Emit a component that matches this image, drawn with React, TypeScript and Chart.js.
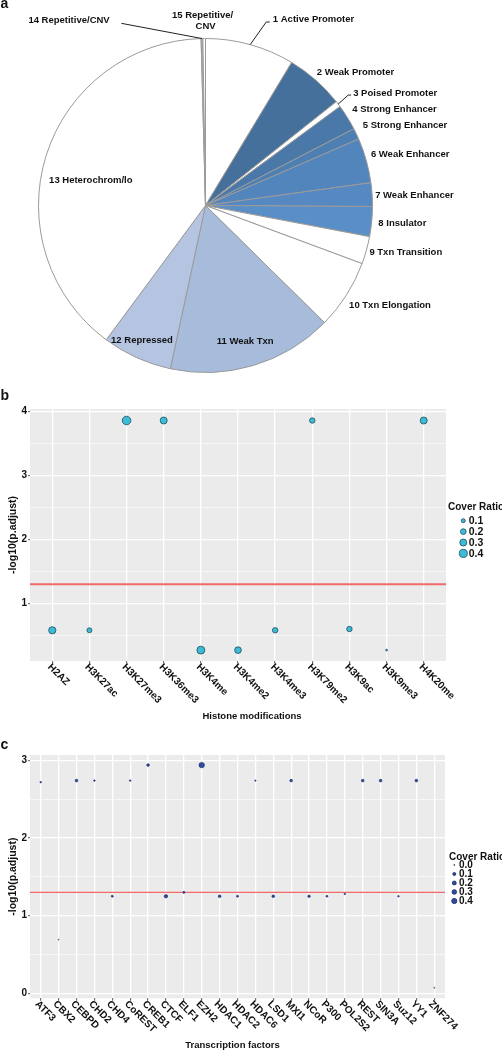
import React, { useEffect, useRef } from "react";
import { Chart, registerables } from "chart.js";

Chart.register(...registerables);

const FONT = '"Liberation Sans", Arial, Helvetica, sans-serif';

// ---------------- Panel a : chromatin states ----------------
const stateNames = [
  "1 Active Promoter",
  "2 Weak Promoter",
  "3 Poised Promoter",
  "4 Strong Enhancer",
  "5 Strong Enhancer",
  "6 Weak Enhancer",
  "7 Weak Enhancer",
  "8 Insulator",
  "9 Txn Transition",
  "10 Txn Elongation",
  "11 Weak Txn",
  "12 Repressed",
  "13 Heterochrom/lo",
  "14 Repetitive/CNV",
  "15 Repetitive/CNV",
];
const stateShares = [8.63, 5.69, 0.58, 2.5, 1.08, 4.33, 2.28, 2.89, 2.67, 6.72, 16.0, 6.75, 39.44, 0.17, 0.25];
const stateColors = [
  "#FFFFFF", "#46709C", "#FFFFFF", "#4A79A9", "#4D7FB2", "#5385BD", "#5689C2", "#5A8EC7",
  "#FFFFFF", "#FFFFFF", "#A7BBDB", "#B5C5E1", "#FFFFFF", "#A9B9CE", "#FFFFFF",
];

// ---------------- Panel b : histone modifications ----------------
const histoneMarks = ["H2AZ", "H3K27ac", "H3K27me3", "H3K36me3", "H3K4me", "H3K4me2", "H3K4me3", "H3K79me2", "H3K9ac", "H3K9me3", "H4K20me"];
const histoneLogP = [0.58, 0.58, 3.86, 3.86, 0.27, 0.27, 0.58, 3.86, 0.6, 0.27, 3.86];
const histoneCover = [0.32, 0.15, 0.45, 0.3, 0.38, 0.27, 0.18, 0.18, 0.18, 0.02, 0.3];
const histoneLegend = [0.1, 0.2, 0.3, 0.4];
const histoneYTicks = [0.5, 1, 1.5, 2, 2.5, 3, 3.5, 4];

// ---------------- Panel c : transcription factors ----------------
const tfNames = ["ATF3", "CBX2", "CEBPD", "CHD2", "CHD4", "CoREST", "CREB1", "CTCF", "ELF1", "EZH2", "HDAC1", "HDAC2", "HDAC6", "LSD1", "MXI1", "NCoR", "P300", "POL2S2", "REST", "SIN3A", "Suz12", "YY1", "ZNF274"];
const tfLogP = [2.72, 0.69, 2.74, 2.74, 1.25, 2.74, 2.94, 1.25, 1.3, 2.94, 1.25, 1.25, 2.74, 1.25, 2.74, 1.25, 1.25, 1.28, 2.74, 2.74, 1.25, 2.74, 0.07];
const tfCover = [0.01, 0.0, 0.07, 0.01, 0.03, 0.01, 0.07, 0.14, 0.03, 0.45, 0.07, 0.03, 0.005, 0.07, 0.07, 0.05, 0.02, 0.01, 0.07, 0.07, 0.01, 0.07, 0.0];
const tfLegend = [0.0, 0.1, 0.2, 0.3, 0.4];
const tfYTicks = [0, 0.5, 1, 1.5, 2, 2.5, 3];

const SIG_THRESHOLD = 1.301; // -log10(0.05)

// size scales (cover ratio -> bubble radius in px)
const radiusB = (v: number) => Math.max(0.6, 6.4 * Math.sqrt(v));
const radiusC = (v: number) => 0.45 * (1 + 5 * Math.sqrt(v / 0.45));

// ---------------- pie label layout (style only) ----------------
type LabelLayout =
  | { mode: "rim"; dx: number; dy: number; align?: CanvasTextAlign; wrap?: boolean }
  | { mode: "inside"; f: number; dx: number; dy: number }
  | { mode: "leader"; ex: number; ey: number; hx: number; dx: number; dy: number; align: CanvasTextAlign };

const pieLabelLayout: LabelLayout[] = [
  { mode: "leader", ex: 16, ey: -22.6, hx: 3.5, dx: 6.6, dy: -2.4, align: "left" },
  { mode: "rim", dx: 1, dy: -8 },
  { mode: "leader", ex: 10, ey: -9, hx: 3, dx: 5, dy: -1.7, align: "left" },
  { mode: "rim", dx: 5, dy: -7.6 },
  { mode: "rim", dx: 6.4, dy: -8.2 },
  { mode: "rim", dx: 4.6, dy: -5.6 },
  { mode: "rim", dx: 3, dy: 1.3 },
  { mode: "rim", dx: 6.6, dy: 1.5 },
  { mode: "rim", dx: 3, dy: 2.3 },
  { mode: "rim", dx: 2.7, dy: 9.8 },
  { mode: "inside", f: 0.85, dx: -1, dy: 0 },
  { mode: "inside", f: 0.88, dx: -3, dy: 0.5 },
  { mode: "inside", f: 0.72, dx: 0, dy: 10.5 },
  { mode: "leader", ex: -80.6, ey: -15.2, hx: 0, dx: -11.7, dy: -2.6, align: "right" },
  { mode: "rim", dx: -1.6, dy: -22.8, align: "center", wrap: true },
];

const pieLabelsPlugin = {
  id: "pieLabels",
  afterDraw(chart: any) {
    const ctx: CanvasRenderingContext2D = chart.ctx;
    const arcs = chart.getDatasetMeta(0).data;
    ctx.save();
    ctx.font = `bold 9.5px ${FONT}`;
    ctx.fillStyle = "#111";
    ctx.strokeStyle = "#222";
    ctx.lineWidth = 1;
    ctx.textBaseline = "middle";
    arcs.forEach((arc: any, i: number) => {
      const { x, y, startAngle, endAngle, outerRadius } = arc.getProps(["x", "y", "startAngle", "endAngle", "outerRadius"], true);
      const mid = (startAngle + endAngle) / 2;
      const cos = Math.cos(mid);
      const sin = Math.sin(mid);
      const rimX = x + outerRadius * cos;
      const rimY = y + outerRadius * sin;
      const L = pieLabelLayout[i];
      const text = stateNames[i];
      let tx = rimX;
      let ty = rimY;
      let align: CanvasTextAlign = "left";
      let lines = [text];
      if (L.mode === "inside") {
        const r = outerRadius * L.f;
        tx = x + r * cos + L.dx;
        ty = y + r * sin + L.dy;
        align = "center";
      } else if (L.mode === "rim") {
        tx = rimX + L.dx;
        ty = rimY + L.dy;
        align = L.align || "left";
        if (L.wrap) lines = text.replace("/", "/\n").split("\n");
      } else {
        const ex = rimX + L.ex;
        const ey = rimY + L.ey;
        ctx.beginPath();
        ctx.moveTo(rimX, rimY);
        ctx.lineTo(ex, ey);
        if (L.hx) ctx.lineTo(ex + L.hx, ey);
        ctx.stroke();
        tx = ex + L.dx;
        ty = ey + L.dy;
        align = L.align;
      }
      ctx.textAlign = align;
      lines.forEach((ln, k) => ctx.fillText(ln, tx + (k > 0 ? 3 : 0), ty + k * 11));
    });
    ctx.restore();
  },
};

// ---------------- helpers for bubble panels ----------------
const panelBg = {
  id: "panelBg",
  beforeDraw(chart: any) {
    const { ctx, chartArea } = chart;
    ctx.save();
    ctx.fillStyle = "#EBEBEB";
    ctx.fillRect(chartArea.left, chartArea.top, chartArea.right - chartArea.left, chartArea.bottom - chartArea.top);
    ctx.restore();
  },
};

const thresholdLine = (width: number) => ({
  id: "thresholdLine",
  beforeDatasetsDraw(chart: any) {
    const { ctx, chartArea, scales } = chart;
    const py = scales.y.getPixelForValue(SIG_THRESHOLD);
    ctx.save();
    ctx.strokeStyle = "#F26A6A";
    ctx.lineWidth = width;
    ctx.beginPath();
    ctx.moveTo(chartArea.left, py);
    ctx.lineTo(chartArea.right, py);
    ctx.stroke();
    ctx.restore();
  },
});

const rotatedXLabels = (labels: string[], title: string, o: { size: number; titleSize: number; dx: number; dy: number; titleDx: number; titleDy: number }) => ({
  id: "rotatedXLabels",
  afterDraw(chart: any) {
    const { ctx, chartArea, scales } = chart;
    ctx.save();
    ctx.fillStyle = "#111";
    ctx.font = `bold ${o.size}px ${FONT}`;
    ctx.textAlign = "left";
    ctx.textBaseline = "middle";
    labels.forEach((lab, i) => {
      const px = scales.x.getPixelForValue(i);
      ctx.save();
      ctx.translate(px + o.dx, chartArea.bottom + o.dy);
      ctx.rotate(Math.PI / 4);
      ctx.fillText(lab, 0, 0);
      ctx.restore();
    });
    ctx.font = `bold ${o.titleSize}px ${FONT}`;
    ctx.textAlign = "center";
    ctx.fillText(title, (chartArea.left + chartArea.right) / 2 + o.titleDx, chartArea.bottom + o.titleDy);
    ctx.restore();
  },
});

const sizeLegend = (
  values: number[],
  radius: (v: number) => number,
  fill: string,
  edge: string,
  o: { titleDx: number; titleDy: number; circleDx: number; labelDx: number; firstDy: number; step: number; titleSize: number; labelSize: number }
) => ({
  id: "sizeLegend",
  afterDraw(chart: any) {
    const { ctx, chartArea } = chart;
    const midY = (chartArea.top + chartArea.bottom) / 2;
    const x0 = chartArea.right;
    ctx.save();
    ctx.fillStyle = "#111";
    ctx.textBaseline = "middle";
    ctx.textAlign = "left";
    ctx.font = `bold ${o.titleSize}px ${FONT}`;
    ctx.fillText("Cover Ratio", x0 + o.titleDx, midY + o.titleDy);
    ctx.font = `bold ${o.labelSize}px ${FONT}`;
    values.forEach((v, i) => {
      const cy = midY + o.firstDy + i * o.step;
      ctx.beginPath();
      ctx.arc(x0 + o.circleDx, cy, radius(v), 0, Math.PI * 2);
      ctx.fillStyle = fill;
      ctx.fill();
      ctx.lineWidth = 0.8;
      ctx.strokeStyle = edge;
      ctx.stroke();
      ctx.fillStyle = "#111";
      ctx.fillText(v.toFixed(1), x0 + o.labelDx, cy + 0.5);
    });
    ctx.restore();
  },
});

const isInt = (v: number) => Math.abs(v - Math.round(v)) < 1e-6;

const xScale = (n: number, height: number) => ({
  type: "linear" as const,
  min: -0.6,
  max: n - 1 + 0.6,
  afterBuildTicks: (s: any) => {
    s.ticks = Array.from({ length: n }, (_, i) => ({ value: i }));
  },
  afterFit: (s: any) => {
    s.height = height;
  },
  ticks: { display: false, autoSkip: false },
  grid: { color: "#FFFFFF", lineWidth: 1.3, drawTicks: true, tickLength: 2.5, tickColor: "#333333", tickWidth: 0.8 },
  border: { display: false },
});

const yScale = (min: number, max: number, ticks: number[]) => ({
  type: "linear" as const,
  min,
  max,
  afterBuildTicks: (s: any) => {
    s.ticks = ticks.map((v) => ({ value: v }));
  },
  afterFit: (s: any) => {
    s.width = 30;
  },
  ticks: {
    autoSkip: false,
    padding: 1,
    color: "#111",
    font: { family: FONT, size: 10, weight: "bold" as const },
    callback: (v: any) => (isInt(Number(v)) ? String(Math.round(Number(v))) : ""),
  },
  grid: {
    color: "#FFFFFF",
    lineWidth: (c: any) => (c.tick && isInt(c.tick.value) ? 1.3 : 0.6),
    drawTicks: true,
    tickLength: 2,
    tickWidth: 0.8,
    tickColor: (c: any) => (c.tick && isInt(c.tick.value) ? "#333333" : "rgba(0,0,0,0)"),
  },
  border: { display: false },
  title: {
    display: true,
    text: "-log10(p.adjust)",
    color: "#111",
    font: { family: FONT, size: 10.5, weight: "bold" as const },
    padding: { top: 6.5, bottom: 0 },
  },
});

export default function App() {
  const pieRef = useRef<HTMLCanvasElement>(null);
  const bRef = useRef<HTMLCanvasElement>(null);
  const cRef = useRef<HTMLCanvasElement>(null);

  useEffect(() => {
    const charts: Chart[] = [];

    charts.push(
      new Chart(pieRef.current as HTMLCanvasElement, {
        type: "pie",
        data: {
          labels: stateNames,
          datasets: [
            {
              data: stateShares,
              backgroundColor: stateColors,
              borderColor: "#9A9A9A",
              borderWidth: 1,
            },
          ],
        },
        options: {
          responsive: false,
          animation: false,
          events: [],
          layout: { padding: { left: 38, top: 38, right: 129, bottom: 12 } },
          plugins: { legend: { display: false }, tooltip: { enabled: false } },
        },
        plugins: [pieLabelsPlugin],
      } as any)
    );

    charts.push(
      new Chart(bRef.current as HTMLCanvasElement, {
        type: "bubble",
        data: {
          datasets: [
            {
              data: histoneMarks.map((_, i) => ({ x: i, y: histoneLogP[i], r: radiusB(histoneCover[i]) })),
              backgroundColor: "#3CBCD7",
              borderColor: "#1F4D58",
              borderWidth: 0.8,
            },
          ],
        },
        options: {
          responsive: false,
          animation: false,
          events: [],
          layout: { padding: { top: 14, right: 56, bottom: 0, left: 0 }, autoPadding: false },
          plugins: { legend: { display: false }, tooltip: { enabled: false } },
          scales: {
            x: xScale(histoneMarks.length, 74),
            y: yScale(0.1, 4.04, histoneYTicks),
          },
        },
        plugins: [
          panelBg,
          thresholdLine(2),
          rotatedXLabels(histoneMarks, "Histone modifications", { size: 10, titleSize: 9.5, dx: -3, dy: 4.5, titleDx: 14, titleDy: 55.7 }),
          sizeLegend(histoneLegend, radiusB, "#3CBCD7", "#1F4D58", {
            titleDx: 2,
            titleDy: -28,
            circleDx: 17.3,
            labelDx: 22.7,
            firstDy: -14.3,
            step: 10.9,
            titleSize: 10,
            labelSize: 10.5,
          }),
        ],
      } as any)
    );

    charts.push(
      new Chart(cRef.current as HTMLCanvasElement, {
        type: "bubble",
        data: {
          datasets: [
            {
              data: tfNames.map((_, i) => ({ x: i, y: tfLogP[i], r: radiusC(tfCover[i]) })),
              backgroundColor: "#2D4FA3",
              borderColor: "#14235A",
              borderWidth: 0.6,
            },
          ],
        },
        options: {
          responsive: false,
          animation: false,
          events: [],
          layout: { padding: { top: 15, right: 57, bottom: 0, left: 0 }, autoPadding: false },
          plugins: { legend: { display: false }, tooltip: { enabled: false } },
          scales: {
            x: xScale(tfNames.length, 51.7),
            y: yScale(-0.065, 3.07, tfYTicks),
          },
        },
        plugins: [
          panelBg,
          thresholdLine(1.2),
          rotatedXLabels(tfNames, "Transcription factors", { size: 10, titleSize: 9.5, dx: -4, dy: 4.3, titleDx: -5, titleDy: 46.7 }),
          sizeLegend(tfLegend, radiusC, "#2D4FA3", "#14235A", {
            titleDx: 4,
            titleDy: -19.4,
            circleDx: 9.3,
            labelDx: 14,
            firstDy: -11.7,
            step: 9,
            titleSize: 10,
            labelSize: 10,
          }),
        ],
      } as any)
    );

    return () => {
      charts.forEach((c) => c.destroy());
    };
  }, []);

  const letter: React.CSSProperties = {
    position: "absolute",
    left: 0.5,
    fontFamily: FONT,
    fontWeight: "bold",
    fontSize: 14,
    lineHeight: "14px",
    color: "#111",
  };

  return (
    <div style={{ position: "absolute", left: 0, top: 0, width: 502, height: 1050, background: "#FFFFFF", overflow: "hidden" }}>
      <canvas ref={pieRef} width={502} height={385} style={{ position: "absolute", left: 0, top: 0, width: 502, height: 385 }} />
      <canvas ref={bRef} width={502} height={340} style={{ position: "absolute", left: 0, top: 395, width: 502, height: 340 }} />
      <canvas ref={cRef} width={502} height={310} style={{ position: "absolute", left: 0, top: 740, width: 502, height: 310 }} />
      <div style={{ ...letter, top: -4.5 }}>a</div>
      <div style={{ ...letter, top: 388.2 }}>b</div>
      <div style={{ ...letter, top: 737.2 }}>c</div>
    </div>
  );
}
